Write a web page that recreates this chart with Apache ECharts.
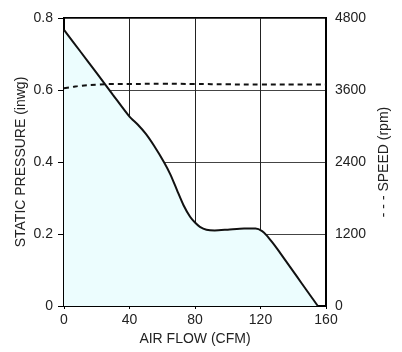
<!DOCTYPE html>
<html>
<head>
<meta charset="utf-8">
<script src="https://cdn.jsdelivr.net/npm/echarts@6/dist/echarts.min.js"></script>
<style>
  html, body { margin: 0; padding: 0; background: #fff; }
  #chart { width: 402px; height: 352px; }
</style>
</head>
<body>
<div id="chart"></div>
<script>
// air flow (CFM) vs static pressure (inwg)
const flowPoints = [0, 10, 20, 30, 40, 45, 50, 55, 61, 65, 69, 73, 77, 80, 83, 87, 92, 100, 110, 117, 121, 124, 127, 130, 135, 140, 145, 150, 155]
const pressure = [0.767, 0.707, 0.647, 0.586, 0.526, 0.504, 0.478, 0.445, 0.4, 0.365, 0.322, 0.28, 0.248, 0.232, 0.22, 0.212, 0.21, 0.212, 0.215, 0.215, 0.208, 0.195, 0.178, 0.16, 0.128, 0.096, 0.064, 0.032, 0]
// speed (rpm), dashed
const speedFlow = [0, 5, 10, 20, 30, 40, 60, 80, 100, 120, 140, 160]
const speed = [3630, 3650, 3670, 3690, 3700, 3700, 3705, 3700, 3695, 3690, 3690, 3690]

const xTicks = [0, 40, 80, 120, 160]
const pressureTicks = [0, 0.2, 0.4, 0.6, 0.8]
const speedTicks = [0, 1200, 2400, 3600, 4800]

const font = 'Liberation Sans, Arial, Helvetica, sans-serif'
const txt = { color: '#222', fontFamily: font, fontSize: 14 }

const chart = echarts.init(document.getElementById('chart'))

chart.setOption({
  animation: false,
  grid: {
    left: 64,
    right: 76,
    top: 18,
    bottom: 46,
    show: true,
    borderColor: '#000',
    borderWidth: 2,
    backgroundColor: 'transparent'
  },
  xAxis: {
    type: 'value',
    min: 0,
    max: 160,
    interval: 40,
    name: 'AIR FLOW (CFM)',
    nameLocation: 'middle',
    nameGap: 21,
    nameTextStyle: txt,
    axisLine: { show: true, lineStyle: { color: '#000', width: 2 } },
    axisTick: { show: true, length: 3, lineStyle: { color: '#000' } },
    axisLabel: Object.assign({ margin: 7, formatter: v => xTicks.includes(v) ? v : '' }, txt),
    splitLine: { show: true, lineStyle: { color: '#222', width: 1 } }
  },
  yAxis: [
    {
      type: 'value',
      min: 0,
      max: 0.8,
      interval: 0.2,
      name: 'STATIC PRESSURE (inwg)',
      nameLocation: 'middle',
      nameRotate: 90,
      nameGap: 36,
      nameMoveOverlap: false,
      nameTextStyle: txt,
      axisLine: { show: true, lineStyle: { color: '#000', width: 2 } },
      axisTick: { show: true, length: 6, lineStyle: { color: '#000' } },
      axisLabel: Object.assign({ margin: 11, formatter: v => pressureTicks.includes(+v.toFixed(1)) ? (v === 0 ? '0' : v.toFixed(1)) : '' }, txt),
      splitLine: { show: true, lineStyle: { color: '#444', width: 1 } }
    },
    {
      type: 'value',
      min: 0,
      max: 4800,
      interval: 1200,
      position: 'right',
      name: '- - - SPEED (rpm)',
      nameLocation: 'middle',
      nameRotate: 90,
      nameGap: 51,
      nameTextStyle: txt,
      axisLine: { show: true, lineStyle: { color: '#000', width: 2 } },
      axisTick: { show: false },
      axisLabel: Object.assign({ margin: 9, formatter: v => speedTicks.includes(v) ? v : '' }, txt),
      splitLine: { show: false }
    }
  ],
  series: [
    {
      name: 'Static Pressure',
      type: 'line',
      yAxisIndex: 0,
      smooth: 0.25,
      symbol: 'none',
      data: flowPoints.map((f, i) => [f, pressure[i]]),
      lineStyle: { color: '#111', width: 2 },
      areaStyle: { color: '#ecfdfe', opacity: 1 },
      z: 1
    },
    {
      name: 'Speed',
      type: 'line',
      yAxisIndex: 1,
      smooth: 0.4,
      symbol: 'none',
      data: speedFlow.map((f, i) => [f, speed[i]]),
      lineStyle: { color: '#111', width: 2, type: [5, 4] },
      z: 3
    }
  ]
})
</script>
</body>
</html>
